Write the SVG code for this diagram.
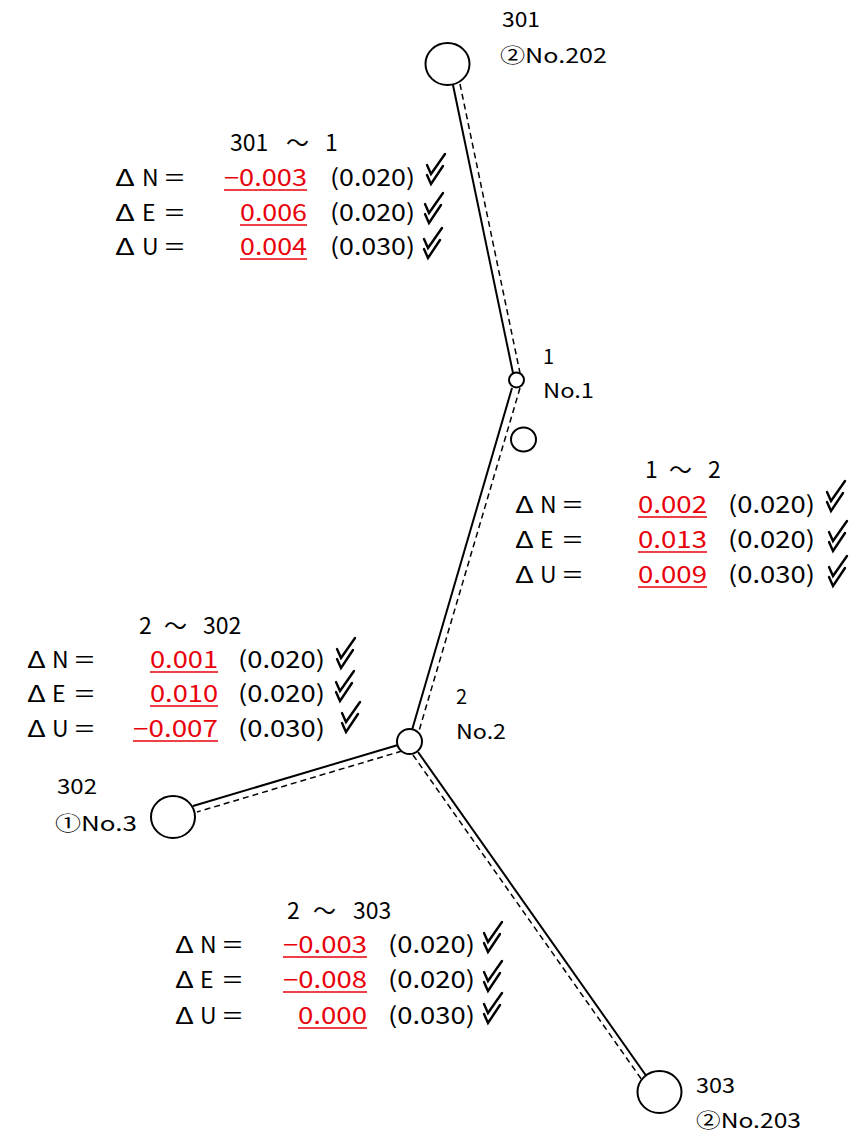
<svg xmlns="http://www.w3.org/2000/svg" width="858" height="1140" viewBox="0 0 858 1140">
<style>
text{font-family:"Noto Sans CJK JP","Noto Sans",sans-serif;fill:#000}
.d{font-size:23px}
.n{font-size:20px}
.v{fill:#e8000b;text-anchor:end}
.u{stroke:#e8000b;stroke-width:1.5}
.s{stroke:#000;stroke-width:2;fill:none}
.da{stroke:#000;stroke-width:1.5;fill:none;stroke-dasharray:6 4}
.nd{stroke:#000;stroke-width:2;fill:#fff}
.ck{stroke:#000;stroke-width:2.4;fill:none;stroke-linejoin:miter;stroke-linecap:round}
</style>
<defs>
<g id="chk"><path class="ck" d="M2,12 L6,21 L20,1 M2,22 L6,31 L18,13"/></g>
</defs>
<rect width="858" height="1140" fill="#fff"/>
<g id="connectors">
<line class="s" x1="453" y1="85" x2="513" y2="373"/>
<line class="da" x1="460" y1="84" x2="520" y2="373"/>
<line class="s" x1="512" y1="388" x2="412" y2="730"/>
<line class="da" x1="520" y1="388" x2="419" y2="731"/>
<line class="s" x1="398" y1="745" x2="193" y2="806"/>
<line class="da" x1="402" y1="751" x2="197" y2="812"/>
<line class="s" x1="418" y1="752" x2="647" y2="1077"/>
<line class="da" x1="413" y1="755" x2="642" y2="1080"/>
</g>
<g id="node301">
<ellipse class="nd" cx="447.5" cy="64" rx="22" ry="21"/>
<text class="n" x="502" y="27" textLength="38" lengthAdjust="spacingAndGlyphs">301</text>
<text class="n" x="500" y="63" textLength="107" lengthAdjust="spacingAndGlyphs">②No.202</text>
</g>
<g id="node1">
<circle class="nd" cx="516.5" cy="380" r="7.5"/>
<text class="n" x="543" y="364">1</text>
<text class="n" x="543" y="398" textLength="51" lengthAdjust="spacingAndGlyphs">No.1</text>
</g>
<g id="extra">
<ellipse class="nd" cx="523.5" cy="439.5" rx="12.5" ry="12"/>
</g>
<g id="node2">
<circle class="nd" cx="409.5" cy="741.5" r="12.5"/>
<text class="n" x="456" y="704">2</text>
<text class="n" x="456" y="739" textLength="50" lengthAdjust="spacingAndGlyphs">No.2</text>
</g>
<g id="node302">
<ellipse class="nd" cx="173" cy="817" rx="22" ry="21"/>
<text class="n" x="57" y="794" textLength="40" lengthAdjust="spacingAndGlyphs">302</text>
<text class="n" x="55" y="831" textLength="82" lengthAdjust="spacingAndGlyphs">①No.3</text>
</g>
<g id="node303">
<ellipse class="nd" cx="659.5" cy="1092" rx="22" ry="21"/>
<text class="n" x="696" y="1093" textLength="39" lengthAdjust="spacingAndGlyphs">303</text>
<text class="n" x="696" y="1128" textLength="105" lengthAdjust="spacingAndGlyphs">②No.203</text>
</g>
<g id="block1">
<text class="d" y="151"><tspan x="230">301 </tspan><tspan x="286">～ </tspan><tspan x="325">1</tspan></text>
<text class="d" x="115" y="186" textLength="20" lengthAdjust="spacingAndGlyphs">Δ</text><text class="d" x="142 163" y="186">N＝</text>
<text class="d v" x="307" y="186" textLength="83" lengthAdjust="spacingAndGlyphs">−0.003</text>
<line class="u" x1="224" y1="190" x2="307" y2="190"/>
<text class="d" x="330" y="186" textLength="85" lengthAdjust="spacingAndGlyphs">(0.020)</text>
<use href="#chk" x="425" y="153"/>
<text class="d" x="115" y="221" textLength="20" lengthAdjust="spacingAndGlyphs">Δ</text><text class="d" x="142 163" y="221">E＝</text>
<text class="d v" x="307" y="221" textLength="67" lengthAdjust="spacingAndGlyphs">0.006</text>
<line class="u" x1="240" y1="225" x2="307" y2="225"/>
<text class="d" x="330" y="221" textLength="85" lengthAdjust="spacingAndGlyphs">(0.020)</text>
<use href="#chk" x="423" y="192"/>
<text class="d" x="115" y="255" textLength="20" lengthAdjust="spacingAndGlyphs">Δ</text><text class="d" x="142 163" y="255">U＝</text>
<text class="d v" x="307" y="255" textLength="67" lengthAdjust="spacingAndGlyphs">0.004</text>
<line class="u" x1="240" y1="259" x2="307" y2="259"/>
<text class="d" x="330" y="255" textLength="85" lengthAdjust="spacingAndGlyphs">(0.030)</text>
<use href="#chk" x="422" y="227"/>
</g>
<g id="block2">
<text class="d" y="478"><tspan x="645">1 </tspan><tspan x="669">～ </tspan><tspan x="708">2</tspan></text>
<text class="d" x="515" y="513" textLength="19" lengthAdjust="spacingAndGlyphs">Δ</text><text class="d" x="540 561" y="513">N＝</text>
<text class="d v" x="707" y="513" textLength="69" lengthAdjust="spacingAndGlyphs">0.002</text>
<line class="u" x1="638" y1="517" x2="707" y2="517"/>
<text class="d" x="728" y="513" textLength="87" lengthAdjust="spacingAndGlyphs">(0.020)</text>
<use href="#chk" x="825" y="480"/>
<text class="d" x="515" y="548" textLength="19" lengthAdjust="spacingAndGlyphs">Δ</text><text class="d" x="540 561" y="548">E＝</text>
<text class="d v" x="707" y="548" textLength="69" lengthAdjust="spacingAndGlyphs">0.013</text>
<line class="u" x1="638" y1="552" x2="707" y2="552"/>
<text class="d" x="728" y="548" textLength="87" lengthAdjust="spacingAndGlyphs">(0.020)</text>
<use href="#chk" x="827" y="520"/>
<text class="d" x="515" y="583" textLength="19" lengthAdjust="spacingAndGlyphs">Δ</text><text class="d" x="540 561" y="583">U＝</text>
<text class="d v" x="707" y="583" textLength="69" lengthAdjust="spacingAndGlyphs">0.009</text>
<line class="u" x1="638" y1="587" x2="707" y2="587"/>
<text class="d" x="728" y="583" textLength="87" lengthAdjust="spacingAndGlyphs">(0.030)</text>
<use href="#chk" x="827" y="555"/>
</g>
<g id="block3">
<text class="d" y="634"><tspan x="139">2 </tspan><tspan x="164">～ </tspan><tspan x="203">302</tspan></text>
<text class="d" x="27" y="668" textLength="19" lengthAdjust="spacingAndGlyphs">Δ</text><text class="d" x="52 73" y="668">N＝</text>
<text class="d v" x="218" y="668" textLength="68" lengthAdjust="spacingAndGlyphs">0.001</text>
<line class="u" x1="150" y1="672" x2="218" y2="672"/>
<text class="d" x="238" y="668" textLength="87" lengthAdjust="spacingAndGlyphs">(0.020)</text>
<use href="#chk" x="335" y="637"/>
<text class="d" x="27" y="702" textLength="19" lengthAdjust="spacingAndGlyphs">Δ</text><text class="d" x="52 73" y="702">E＝</text>
<text class="d v" x="218" y="702" textLength="68" lengthAdjust="spacingAndGlyphs">0.010</text>
<line class="u" x1="150" y1="706" x2="218" y2="706"/>
<text class="d" x="238" y="702" textLength="87" lengthAdjust="spacingAndGlyphs">(0.020)</text>
<use href="#chk" x="334" y="670"/>
<text class="d" x="27" y="737" textLength="19" lengthAdjust="spacingAndGlyphs">Δ</text><text class="d" x="52 73" y="737">U＝</text>
<text class="d v" x="218" y="737" textLength="85" lengthAdjust="spacingAndGlyphs">−0.007</text>
<line class="u" x1="133" y1="741" x2="218" y2="741"/>
<text class="d" x="238" y="737" textLength="87" lengthAdjust="spacingAndGlyphs">(0.030)</text>
<use href="#chk" x="340" y="701"/>
</g>
<g id="block4">
<text class="d" y="919"><tspan x="287">2 </tspan><tspan x="313">～ </tspan><tspan x="353">303</tspan></text>
<text class="d" x="175" y="953" textLength="19" lengthAdjust="spacingAndGlyphs">Δ</text><text class="d" x="200 221" y="953">N＝</text>
<text class="d v" x="367" y="953" textLength="84" lengthAdjust="spacingAndGlyphs">−0.003</text>
<line class="u" x1="283" y1="957" x2="367" y2="957"/>
<text class="d" x="388" y="953" textLength="87" lengthAdjust="spacingAndGlyphs">(0.020)</text>
<use href="#chk" x="482" y="921"/>
<text class="d" x="175" y="988" textLength="19" lengthAdjust="spacingAndGlyphs">Δ</text><text class="d" x="200 221" y="988">E＝</text>
<text class="d v" x="367" y="988" textLength="84" lengthAdjust="spacingAndGlyphs">−0.008</text>
<line class="u" x1="283" y1="992" x2="367" y2="992"/>
<text class="d" x="388" y="988" textLength="87" lengthAdjust="spacingAndGlyphs">(0.020)</text>
<use href="#chk" x="482" y="960"/>
<text class="d" x="175" y="1024" textLength="19" lengthAdjust="spacingAndGlyphs">Δ</text><text class="d" x="200 221" y="1024">U＝</text>
<text class="d v" x="367" y="1024" textLength="69" lengthAdjust="spacingAndGlyphs">0.000</text>
<line class="u" x1="298" y1="1028" x2="367" y2="1028"/>
<text class="d" x="388" y="1024" textLength="87" lengthAdjust="spacingAndGlyphs">(0.030)</text>
<use href="#chk" x="482" y="992"/>
</g>
</svg>
